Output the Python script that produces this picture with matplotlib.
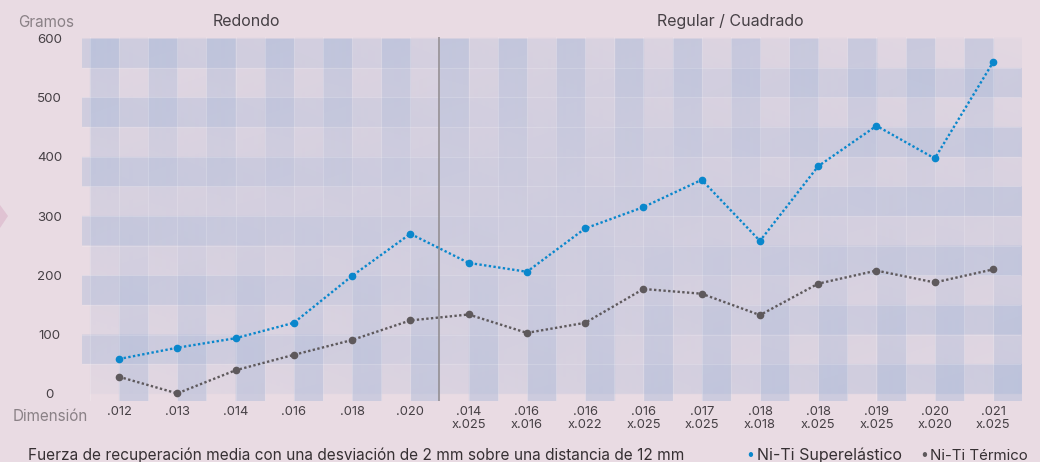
import numpy as np
import matplotlib
matplotlib.use("Agg")
import matplotlib.pyplot as plt
from matplotlib.patches import Polygon

plt.rcParams['font.family'] = ['Inter', 'DejaVu Sans']

# Wire dimensions (round, then rectangular/square)
categories = [".012", ".013", ".014", ".016", ".018", ".020",
              ".014\nx.025", ".016\nx.016", ".016\nx.022", ".016\nx.025",
              ".017\nx.025", ".018\nx.018", ".018\nx.025", ".019\nx.025",
              ".020\nx.020", ".021\nx.025"]
n_round = 6

# Mean recovery force (grams)
superelastico = [59, 78, 94, 120, 199, 270, 221, 206, 279, 315, 361, 258, 384, 452, 397, 559]
termico = [29, 1, 40, 66, 91, 124, 134, 103, 120, 177, 169, 133, 186, 208, 188, 210]

y_ticks = [0, 100, 200, 300, 400, 500, 600]

BG = "#e9dbe3"
BAND = np.array([158, 178, 214]) / 255.0
BLUE = "#0a87cc"
GREY = "#5e595c"
DARK = "#464045"
LIGHT = "#8a8186"
TEXT = "#363033"

W, H = 1040, 462
fig = plt.figure(figsize=(W / 100, H / 100), dpi=100, facecolor=BG)
ax = fig.add_axes([82 / W, 1 - 401 / H, (1021 - 82) / W, (401 - 37) / H])
ax.set_facecolor(BG)

n = len(categories)
x = np.arange(n)
xmin, xmax = -0.635, (n - 1) + 0.48
ymin, ymax = -11.8, y_ticks[-1] + 1.7
ax.set_xlim(xmin, xmax)
ax.set_ylim(ymin, ymax)

# ---- gingham background: crossing translucent bands that fade across the panel
res_x, res_y = 939 * 2, 364 * 2
gx = np.linspace(xmin, xmax, res_x)
gy = np.linspace(ymax, ymin, res_y)
X, Y = np.meshgrid(gx, gy)
top = y_ticks[-1]
step = 50

frac = np.mod(X, 1.0)
colA = (frac >= 0.5) & (X >= -0.5) & (X <= n - 1) & (Y >= 0) & (Y <= top)
colB = (frac < 0.5) & (X >= 0) & (X <= n - 0.5)
yc = np.clip(Y / top, 0, 1)
a_colA = np.where(colA, 0.04 + 0.34 * yc, 0.0)
a_colB = np.where(colB, 0.04 + 0.34 * (1 - yc), 0.0)

band_idx = np.floor(Y / step)
rowA = (np.mod(band_idx, 2) == 1) & (Y >= step) & (Y <= top)
rowB = (np.mod(band_idx, 2) == 0) & (Y >= 0) & (Y < top) & (X >= -0.5)
t = (X - xmin) / (xmax - xmin)
a_rowA = np.where(rowA, 0.04 + 0.30 * (1 - t), 0.0)
a_rowB = np.where(rowB, 0.04 + 0.30 * t, 0.0)

keep = (1 - a_colA) * (1 - a_colB) * (1 - a_rowA) * (1 - a_rowB)
alpha = 1 - keep
rgba = np.zeros((res_y, res_x, 4))
rgba[..., :3] = BAND
rgba[..., 3] = alpha
ax.imshow(rgba, extent=(xmin, xmax, ymin, ymax), aspect='auto',
          interpolation='bilinear', zorder=0)

# faint light seams between cells
for xv in np.arange(-0.5, n, 0.5):
    ax.axvline(xv, color="white", alpha=0.2, lw=0.6, zorder=1)
for yv in range(step, top, step):
    ax.axhline(yv, color="white", alpha=0.2, lw=0.6, zorder=1)

# separator between round and rectangular wires
ax.axvline(n_round - 0.5, color="#8f8a8d", lw=1.1, zorder=2)

# ---- series
ax.plot(x, superelastico, linestyle=(0, (1, 1)), lw=1.7, color=BLUE,
        marker="o", markersize=4.5, zorder=4)
ax.plot(x, termico, linestyle=(0, (1, 1)), lw=1.7, color=GREY,
        marker="o", markersize=4.5, zorder=4)

# ---- axes cosmetics
for s in ax.spines.values():
    s.set_visible(False)
ax.set_xticks(x)
ax.set_xticklabels(categories, fontsize=9.3, color=DARK, linespacing=1.05)
ax.set_yticks(y_ticks)
ax.set_yticklabels([str(v) for v in y_ticks], fontsize=9.6, color=DARK)
for lbl in ax.get_yticklabels():
    lbl.set_horizontalalignment("center")
ax.tick_params(axis="both", length=0)
ax.tick_params(axis="y", pad=23.4)
ax.tick_params(axis="x", pad=3.8)

# ---- annotations
fig.text(46.5 / W, 1 - 27 / H, "Gramos", fontsize=11, color=LIGHT,
         ha="center", va="baseline")
fig.text(50.5 / W, 1 - 421 / H, "Dimensión", fontsize=11, color=LIGHT,
         ha="center", va="baseline")
fig.text(246 / W, 1 - 26 / H, "Redondo", fontsize=11.5, color=DARK,
         ha="center", va="baseline")
fig.text(730 / W, 1 - 26 / H, "Regular / Cuadrado", fontsize=11.5, color=DARK,
         ha="center", va="baseline")

fig.text(28 / W, 1 - 460 / H,
         "Fuerza de recuperación media con una desviación de 2 mm sobre una distancia de 12 mm",
         fontsize=11.1, color=TEXT, ha="left", va="baseline")
fig.text(750 / W, 1 - 459 / H, "•", fontsize=10, color=BLUE, ha="center", va="baseline")
fig.text(757 / W, 1 - 460 / H, "Ni-Ti Superelástico", fontsize=11.5, color=TEXT,
         ha="left", va="baseline")
fig.text(924 / W, 1 - 459 / H, "•", fontsize=10, color=GREY, ha="center", va="baseline")
fig.text(930 / W, 1 - 460 / H, "Ni-Ti Térmico", fontsize=10.8, color=TEXT,
         ha="left", va="baseline")

# small pointer at the left edge
fig.patches.append(Polygon([[0, 1 - 205 / H], [8 / W, 1 - 216 / H], [0, 1 - 228 / H]],
                           closed=True, transform=fig.transFigure,
                           facecolor="#e0c3d3", edgecolor="none"))

fig.savefig("out.png", dpi=100, facecolor=BG)
